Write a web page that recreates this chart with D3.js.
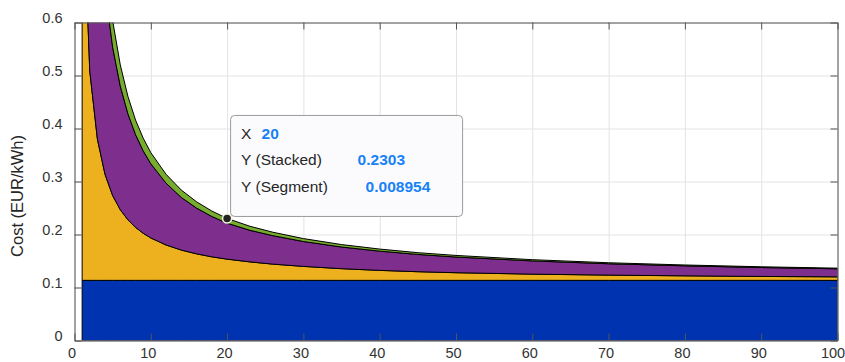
<!DOCTYPE html>
<html>
<head>
<meta charset="utf-8">
<script src="https://cdn.jsdelivr.net/npm/d3@7"></script>
<style>
  body { margin: 0; background: #fff; }
  text { font-family: "Liberation Sans", Arial, Helvetica, sans-serif; }
</style>
</head>
<body>
<div id="chart-area"></div>
<script>
// Data (x = capacity index, values in EUR/kWh)
const xValues = [1, 2, 3, 4, 5, 6, 7, 8, 9, 10, 12, 14, 16, 18, 20, 23, 26, 30, 35, 40, 45, 50, 60, 70, 80, 90, 100];
const baseCost = [0.1135, 0.1135, 0.1135, 0.1135, 0.1135, 0.1135, 0.1135, 0.1135, 0.1135, 0.1135, 0.1135, 0.1135, 0.1135, 0.1135,
                  0.1135, 0.1135, 0.1135, 0.1135, 0.1135, 0.1135, 0.1135, 0.1135, 0.1135, 0.1135, 0.1135, 0.1135, 0.1135];
const yellowCost = [0.780, 0.395, 0.2667, 0.200, 0.160, 0.1333, 0.1143, 0.100, 0.0889, 0.080, 0.0667, 0.0571, 0.050, 0.0444,
                    0.040, 0.0348, 0.0306, 0.0263, 0.0220, 0.0188, 0.0163, 0.0144, 0.0117, 0.0099, 0.0085, 0.0074, 0.0066];
const purpleCost = [1.42, 0.705, 0.4667, 0.35, 0.28, 0.2333, 0.2, 0.175, 0.1556, 0.14, 0.1167, 0.0993, 0.0863, 0.0761,
                    0.06785, 0.0596, 0.0537, 0.047, 0.0409, 0.0363, 0.0326, 0.0296, 0.025, 0.0214, 0.0189, 0.0168, 0.0152];
const greenCost = [0.30, 0.145, 0.09, 0.065, 0.05, 0.04, 0.0329, 0.0275, 0.0239, 0.021, 0.0167, 0.0139, 0.0119, 0.0103,
                   0.008954, 0.0076, 0.0065, 0.0055, 0.0046, 0.0039, 0.0033, 0.003, 0.0023, 0.0019, 0.0016, 0.0014, 0.0012];

const seriesKeys = ["base", "yellow", "purple", "green"];
const seriesColors = ["#0033b0", "#edb120", "#7e2f8e", "#77ac30"];
const xTicks = [0, 10, 20, 30, 40, 50, 60, 70, 80, 90, 100];
const yTicks = [0, 0.1, 0.2, 0.3, 0.4, 0.5, 0.6];

// Data tip
const tipX = 20;
const tipStacked = 0.2303;
const tipSegment = 0.008954;

// Set up SVG dimensions
const W = 845, H = 362;
const plot = { left: 74.5, right: 837.5, top: 22.5, bottom: 340.5 };

const svg = d3.select("#chart-area")
    .append("svg")
    .attr("width", W)
    .attr("height", H);

const x = d3.scaleLinear().domain([0, 100]).range([plot.left, plot.right]);
const y = d3.scaleLinear().domain([0, 0.6]).range([plot.bottom, plot.top]);

// Clip to axes box
svg.append("clipPath").attr("id", "clip")
    .append("rect")
    .attr("x", plot.left).attr("y", plot.top)
    .attr("width", plot.right - plot.left).attr("height", plot.bottom - plot.top);

// Grid lines
svg.append("g")
    .attr("class", "grid")
    .attr("transform", "translate(0," + plot.bottom + ")")
    .call(d3.axisBottom(x).tickValues(xTicks).tickSize(-(plot.bottom - plot.top)).tickFormat(""))
    .call(g => g.select(".domain").remove())
    .selectAll("line").attr("stroke", "#e3e3e3");

svg.append("g")
    .attr("class", "grid")
    .attr("transform", "translate(" + plot.left + ",0)")
    .call(d3.axisLeft(y).tickValues(yTicks).tickSize(-(plot.right - plot.left)).tickFormat(""))
    .call(g => g.select(".domain").remove())
    .selectAll("line").attr("stroke", "#e3e3e3");

// Stacked areas
const rows = xValues.map((xv, i) => ({
    x: xv, base: baseCost[i], yellow: yellowCost[i], purple: purpleCost[i], green: greenCost[i]
}));
const stacked = d3.stack().keys(seriesKeys)(rows);

const area = d3.area()
    .x(d => x(d.data.x))
    .y0(d => y(d[0]))
    .y1(d => y(d[1]));

svg.append("g")
    .attr("clip-path", "url(#clip)")
    .selectAll("path")
    .data(stacked)
    .enter()
    .append("path")
    .attr("d", area)
    .attr("fill", (d, i) => seriesColors[i])
    .attr("stroke", "#000")
    .attr("stroke-width", 1)
    .attr("stroke-linejoin", "round");

// Axes (ticks point inward, box on)
const axisColor = "#555";
const tickLen = 7;
const tickFont = 14.5;

const xAxis = svg.append("g")
    .attr("transform", "translate(0," + plot.bottom + ")")
    .call(d3.axisBottom(x).tickValues(xTicks).tickSizeInner(-tickLen).tickSizeOuter(0).tickPadding(7));
const yAxis = svg.append("g")
    .attr("transform", "translate(" + plot.left + ",0)")
    .call(d3.axisLeft(y).tickValues(yTicks).tickSizeInner(-tickLen).tickSizeOuter(0).tickPadding(12)
        .tickFormat(d => d === 0 ? "0" : d3.format(".1f")(d)));
const topAxis = svg.append("g")
    .attr("transform", "translate(0," + plot.top + ")")
    .call(d3.axisTop(x).tickValues(xTicks).tickSizeInner(-tickLen).tickSizeOuter(0).tickFormat(""));
const rightAxis = svg.append("g")
    .attr("transform", "translate(" + plot.right + ",0)")
    .call(d3.axisRight(y).tickValues(yTicks).tickSizeInner(-tickLen).tickSizeOuter(0).tickFormat(""));

[xAxis, yAxis, topAxis, rightAxis].forEach(g => {
    g.select(".domain").attr("stroke", axisColor);
    g.selectAll(".tick line").attr("stroke", axisColor);
    g.selectAll(".tick text").attr("fill", "#333").attr("font-size", tickFont);
});
// last label would run past the window edge, so pull it in a little more
xAxis.selectAll(".tick text").attr("dx", d => d === 100 ? -5 : -3);
yAxis.selectAll(".tick text").attr("y", -4.5);

// Axis label
svg.append("text")
    .attr("transform", "rotate(-90)")
    .attr("x", -196)
    .attr("y", 23)
    .attr("text-anchor", "middle")
    .attr("font-size", 16.5)
    .attr("fill", "#262626")
    .text("Cost (EUR/kWh)");

// Data tip
const px = x(tipX), py = y(tipStacked);
const tip = svg.append("g").attr("transform", "translate(" + (px + 3.5) + "," + (py - 103) + ")");
tip.append("rect")
    .attr("x", 0).attr("y", 0)
    .attr("width", 232).attr("height", 101)
    .attr("rx", 4).attr("ry", 4)
    .attr("fill", "#fbfbfe")
    .attr("stroke", "#9a9a9a")
    .attr("stroke-width", 1);

const labelFill = "#262626", valueFill = "#1782f5", tipFont = 15.5;
tip.append("text").attr("x", 10.5).attr("y", 24).attr("font-size", tipFont).attr("fill", labelFill).text("X");
tip.append("text").attr("x", 31).attr("y", 24).attr("font-size", tipFont).attr("font-weight", "bold").attr("fill", valueFill).text(tipX);
tip.append("text").attr("x", 10.5).attr("y", 50).attr("font-size", tipFont).attr("fill", labelFill).text("Y (Stacked)");
tip.append("text").attr("x", 127).attr("y", 50).attr("font-size", tipFont).attr("font-weight", "bold").attr("fill", valueFill).text(tipStacked);
tip.append("text").attr("x", 10.5).attr("y", 76.5).attr("font-size", tipFont).attr("fill", labelFill).text("Y (Segment)");
tip.append("text").attr("x", 135).attr("y", 76.5).attr("font-size", tipFont).attr("font-weight", "bold").attr("fill", valueFill).text(tipSegment);

svg.append("circle")
    .attr("cx", px).attr("cy", py)
    .attr("r", 4.5)
    .attr("fill", "#222")
    .attr("stroke", "#f4f4dc")
    .attr("stroke-width", 1.5);
</script>
</body>
</html>
